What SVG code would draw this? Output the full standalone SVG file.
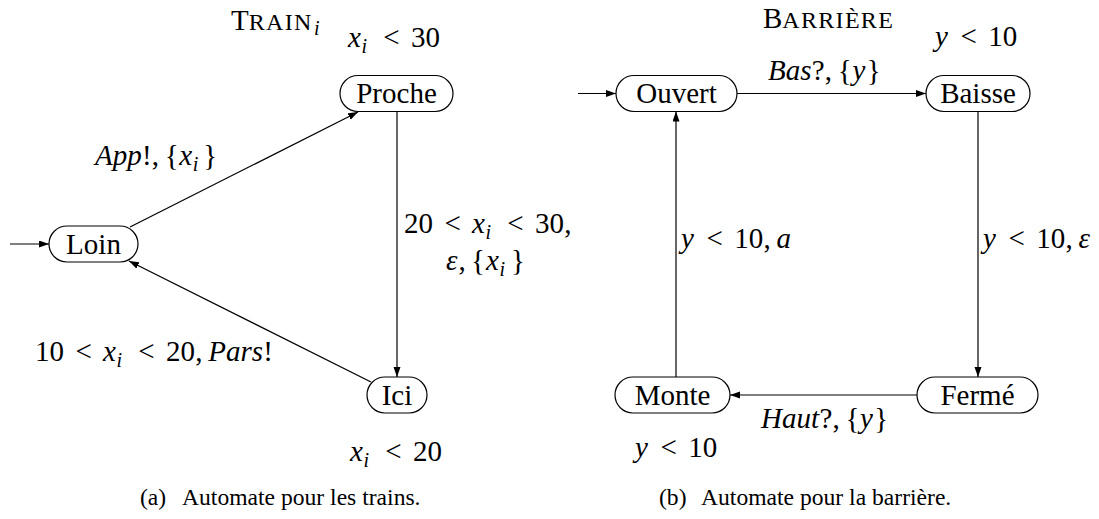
<svg xmlns="http://www.w3.org/2000/svg" width="1099" height="519" viewBox="0 0 1099 519">
<style>
.n{fill:#fff;stroke:#000;stroke-width:1.2}
.t{font-family:'Liberation Serif','DejaVu Serif',serif;font-size:29px;fill:#000}
.nl{text-anchor:middle}
.i{font-style:italic}
.s{font-size:20px;font-style:italic}
.sc{font-size:24px;letter-spacing:1.3px}
.cap{font-family:'Liberation Serif','DejaVu Serif',serif;font-size:23.6px;fill:#000}
.e{fill:none;stroke:#000;stroke-width:1.2;marker-end:url(#ah)}
</style>
<defs>
<marker id="ah" markerUnits="userSpaceOnUse" markerWidth="11" markerHeight="8" refX="10" refY="3.5" orient="auto">
<path d="M0,0 L10,3.5 L0,7 z" fill="#000"/>
</marker>
</defs>

<g id="connectors">
<path class="e" d="M10,244 H49"/>
<path class="e" d="M130,227 L358,112"/>
<path class="e" d="M397,111.5 V377"/>
<path class="e" d="M371,382 L129,261"/>
<path class="e" d="M578,93.5 H616"/>
<path class="e" d="M737,93.5 H926"/>
<path class="e" d="M978,111.5 V377"/>
<path class="e" d="M917,395 H730"/>
<path class="e" d="M676,377 V111.5"/>
</g>

<g id="node-proche"><rect class="n" x="340" y="75.5" width="113" height="36" rx="18"/><text class="t nl" x="396.5" y="103">Proche</text></g>
<g id="node-loin"><rect class="n" x="49" y="226" width="89" height="36" rx="18"/><text class="t nl" x="93.5" y="253.5">Loin</text></g>
<g id="node-ici"><rect class="n" x="367" y="377" width="60" height="36" rx="18"/><text class="t nl" x="397" y="404.5">Ici</text></g>
<g id="node-ouvert"><rect class="n" x="616" y="75.5" width="121" height="36" rx="18"/><text class="t nl" x="676.5" y="103">Ouvert</text></g>
<g id="node-baisse"><rect class="n" x="926" y="75.5" width="104" height="36" rx="18"/><text class="t nl" x="978" y="103">Baisse</text></g>
<g id="node-monte"><rect class="n" x="615" y="377" width="115" height="36" rx="18"/><text class="t nl" x="672.5" y="404.5">Monte</text></g>
<g id="node-ferme"><rect class="n" x="917" y="377" width="121" height="36" rx="18"/><text class="t nl" x="977.5" y="404.5">Fermé</text></g>

<g id="labels">
<text class="t" x="231" y="30">T<tspan class="sc">RAIN</tspan><tspan class="s" x="314" dy="5">i</tspan></text>
<text class="t" x="763" y="28">B<tspan class="sc">ARRIÈRE</tspan></text>

<text class="t" y="47"><tspan class="i" x="348">x</tspan><tspan class="s" x="361.5" dy="6">i</tspan><tspan x="383.2" dy="-6">&lt;</tspan><tspan x="410.9">30</tspan></text>

<text class="t" y="165"><tspan class="i" x="95">App</tspan><tspan x="142">!</tspan><tspan x="151.7">,</tspan><tspan x="164.7">{</tspan><tspan class="i" x="179.3">x</tspan><tspan class="s" x="192.8" dy="6">i</tspan><tspan x="203.3" dy="-6">}</tspan></text>

<text class="t" y="233"><tspan x="404">20</tspan><tspan x="444.4">&lt;</tspan><tspan class="i" x="472.1">x</tspan><tspan class="s" x="485.6" dy="6">i</tspan><tspan x="507.3" dy="-6">&lt;</tspan><tspan x="535">30</tspan><tspan x="564.2">,</tspan></text>

<text class="t" y="270"><tspan class="i" x="446">ε</tspan><tspan x="458.5">,</tspan><tspan x="471">{</tspan><tspan class="i" x="486">x</tspan><tspan class="s" x="499.5" dy="6">i</tspan><tspan x="511" dy="-6">}</tspan></text>

<text class="t" y="361"><tspan x="35">10</tspan><tspan x="75.4">&lt;</tspan><tspan class="i" x="103.1">x</tspan><tspan class="s" x="116.6" dy="6">i</tspan><tspan x="138.3" dy="-6">&lt;</tspan><tspan x="166">20</tspan><tspan x="195.2">,</tspan><tspan class="i" x="208.2">Pars</tspan><tspan x="263.2">!</tspan></text>

<text class="t" y="461"><tspan class="i" x="350">x</tspan><tspan class="s" x="363.5" dy="6">i</tspan><tspan x="385.2" dy="-6">&lt;</tspan><tspan x="412.9">20</tspan></text>

<text class="t" y="46"><tspan class="i" x="935">y</tspan><tspan x="960.5">&lt;</tspan><tspan x="988.2">10</tspan></text>

<text class="t" y="80"><tspan class="i" x="768">Bas</tspan><tspan x="811.8">?</tspan><tspan x="824.8">,</tspan><tspan x="837.8">{</tspan><tspan class="i" x="852.4">y</tspan><tspan x="866.7">}</tspan></text>

<text class="t" y="248"><tspan class="i" x="681">y</tspan><tspan x="706.5">&lt;</tspan><tspan x="734.2">10</tspan><tspan x="763.4">,</tspan><tspan class="i" x="776.4">a</tspan></text>

<text class="t" y="248"><tspan class="i" x="983">y</tspan><tspan x="1008.5">&lt;</tspan><tspan x="1036.2">10</tspan><tspan x="1065.4">,</tspan><tspan class="i" x="1078.4">ε</tspan></text>

<text class="t" y="428"><tspan class="i" x="761">Haut</tspan><tspan x="819.4">?</tspan><tspan x="832.4">,</tspan><tspan x="845.4">{</tspan><tspan class="i" x="860">y</tspan><tspan x="874.3">}</tspan></text>

<text class="t" y="457"><tspan class="i" x="635">y</tspan><tspan x="660.5">&lt;</tspan><tspan x="688.2">10</tspan></text>

<text class="cap" y="505"><tspan x="140">(a)</tspan><tspan x="182">Automate pour les trains.</tspan></text>
<text class="cap" y="505"><tspan x="659">(b)</tspan><tspan x="701">Automate pour la barrière.</tspan></text>
</g>
</svg>
